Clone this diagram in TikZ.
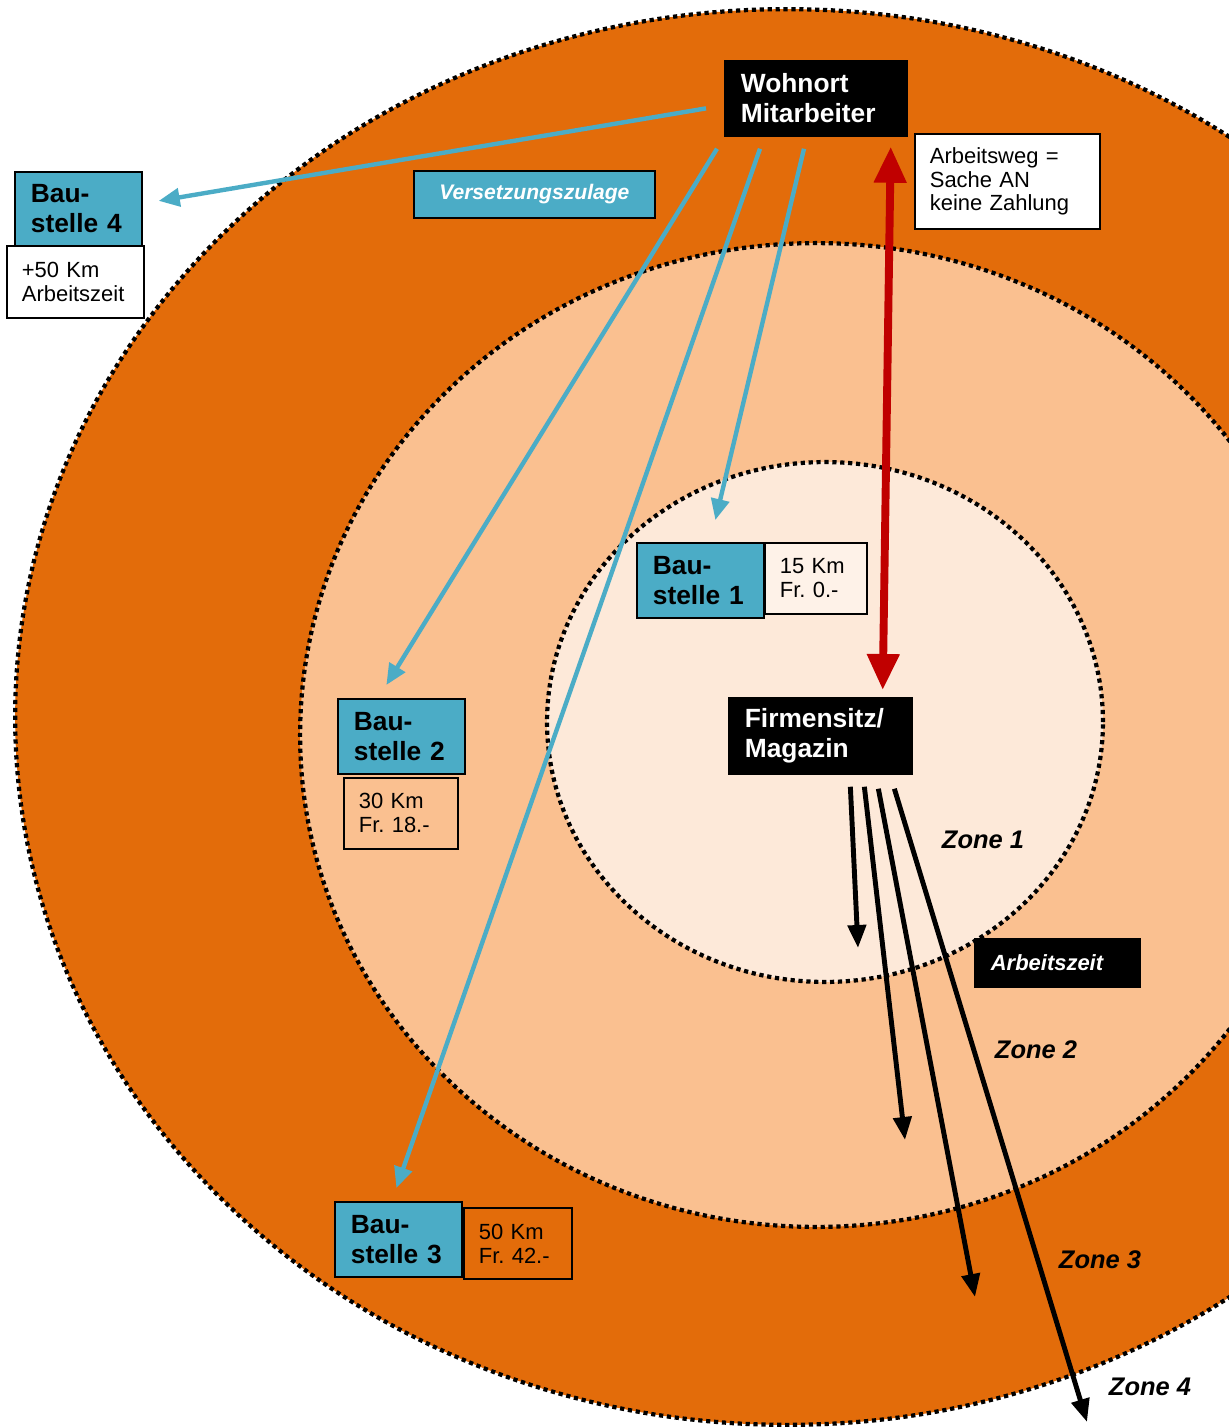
\documentclass[tikz,border=0pt]{standalone}
\usepackage{fontspec}
\setmainfont{Liberation Sans}
\frenchspacing
\usetikzlibrary{arrows.meta,calc}
\definecolor{zoneA}{RGB}{253,233,217}
\definecolor{zoneB}{RGB}{250,192,144}
\definecolor{zoneC}{RGB}{227,108,10}
\definecolor{baublau}{RGB}{75,172,198}
\definecolor{rot}{RGB}{192,0,0}
\tikzset{
  ring/.style={draw=black,line width=2.4pt,dash pattern=on 2.4pt off 2.1pt},
  box/.style={draw=black,line width=1pt,anchor=north west,inner xsep=0.32cm,
    inner ysep=0pt,align=left},
  dark/.style={box,fill=black,text=white,font=\fontsize{15}{17}\selectfont\bfseries},
  bau/.style={box,fill=baublau,text width=1.9cm,minimum height=1.5cm,
    font=\fontsize{15}{17}\selectfont\bfseries},
  km/.style={box,inner xsep=0.3cm,minimum height=1.42cm,font=\fontsize{12.5}{13.6}\selectfont},
  zone/.style={font=\fontsize{14.5}{17}\selectfont\bfseries\itshape},
  blaupfeil/.style={draw=baublau,line width=2.5pt,-{Triangle[length=0.42cm,width=0.36cm]}},
  schwarzpfeil/.style={draw=black,line width=2.8pt,-{Triangle[length=0.46cm,width=0.36cm]}},
}
\begin{document}
\begin{tikzpicture}[x=0.02cm,y=-0.02cm]
  \useasboundingbox (0,0) rectangle (1229,1427);
  \begin{scope}
    \clip (0,0) rectangle (1229,1427);
    \path[ring,fill=zoneC] (787,717) ellipse [x radius=15.44cm,y radius=14.16cm];
    \path[ring,fill=zoneB] (816,735) ellipse [x radius=10.32cm,y radius=9.84cm];
    \path[ring,fill=zoneA] (825,722) ellipse [x radius=5.56cm,y radius=5.2cm];
  \end{scope}

  \node[dark,text width=3cm,minimum height=1.5cm] (w) at (724,60) {Wohnort\\Mitarbeiter};
  \node[km,fill=white,text width=3.1cm,minimum height=1.9cm] (weg) at (914,133)
    {Arbeitsweg =\\Sache AN\\keine Zahlung};
  \node[box,fill=baublau,text=white,align=center,text width=4.18cm,minimum height=0.94cm,
    font=\fontsize{12}{14}\selectfont\bfseries\itshape] (vz) at (413,170) {Versetzungszulage};

  \node[bau,minimum height=1.48cm] (b4) at (14,171) {Bau-\\stelle 4};
  \node[km,fill=white,text width=2.14cm,minimum height=1.44cm] (k4) at (6,245) {+50 Km\\Arbeitszeit};
  \node[bau] (b1) at (636,542) {Bau-\\stelle 1};
  \node[km,fill=zoneA!60!white,text width=1.44cm] (k1) at (764,542) {15 Km\\Fr. 0.-};
  \node[bau] (b2) at (337,698) {Bau-\\stelle 2};
  \node[km,fill=zoneB,text width=1.68cm] (k2) at (343,777) {30 Km\\Fr. 18.-};
  \node[bau] (b3) at (334,1201) {Bau-\\stelle 3};
  \node[km,fill=zoneC,text width=1.56cm] (k3) at (463,1207) {50 Km\\Fr. 42.-};

  \node[dark,text width=3.02cm,minimum height=1.52cm] (f) at (728,697) {Firmensitz/\\Magazin};
  \node[dark,text width=2.66cm,minimum height=0.96cm,
    font=\fontsize{12.5}{14}\selectfont\bfseries\itshape] (az) at (974,938) {Arbeitszeit};

  \node[zone] (z1) at (983,840) {Zone 1};
  \node[zone] (z2) at (1036,1050) {Zone 2};
  \node[zone] (z3) at (1100,1260) {Zone 3};
  \node[zone] (z4) at (1150,1387) {Zone 4};

  % Arbeitsweg vom Wohnort
  \begin{scope}[blaupfeil]
    \draw ($(w.west)+(-18,10)$) -- ($(b4.east)+(16,-8)$);
    \draw ($(w.south west)+(-7,12)$) -- ($(b2.north)+(-15,-13)$);
    \draw ($(w.south west)+(36,12)$) -- ($(b3.north)+(-2,-13)$);
    \draw ($(w.south west)+(80,12)$) -- ($(b1.north)+(15,-22)$);
  \end{scope}
  \draw[draw=rot,line width=4.5pt,{Triangle[length=0.72cm,width=0.62cm]}-{Triangle[length=0.72cm,width=0.62cm]}]
    ($(w.south east)+(-17,10)$) -- ($(f.north east)+(-30,-7)$);

  % Zonen ab Magazin
  \coordinate (e1) at (858,948);
  \coordinate (e2) at (905,1140);
  \coordinate (e3) at (975,1297);
  \coordinate (e4) at (1087,1422);
  \begin{scope}[schwarzpfeil]
    \draw ($(f.south)+(30,12)$) -- (e1);
    \draw ($(f.south)+(44,12)$) -- (e2);
    \draw ($(f.south)+(58,14)$) -- (e3);
    \draw ($(f.south)+(74,14)$) -- (e4);
  \end{scope}
\end{tikzpicture}
\end{document}
